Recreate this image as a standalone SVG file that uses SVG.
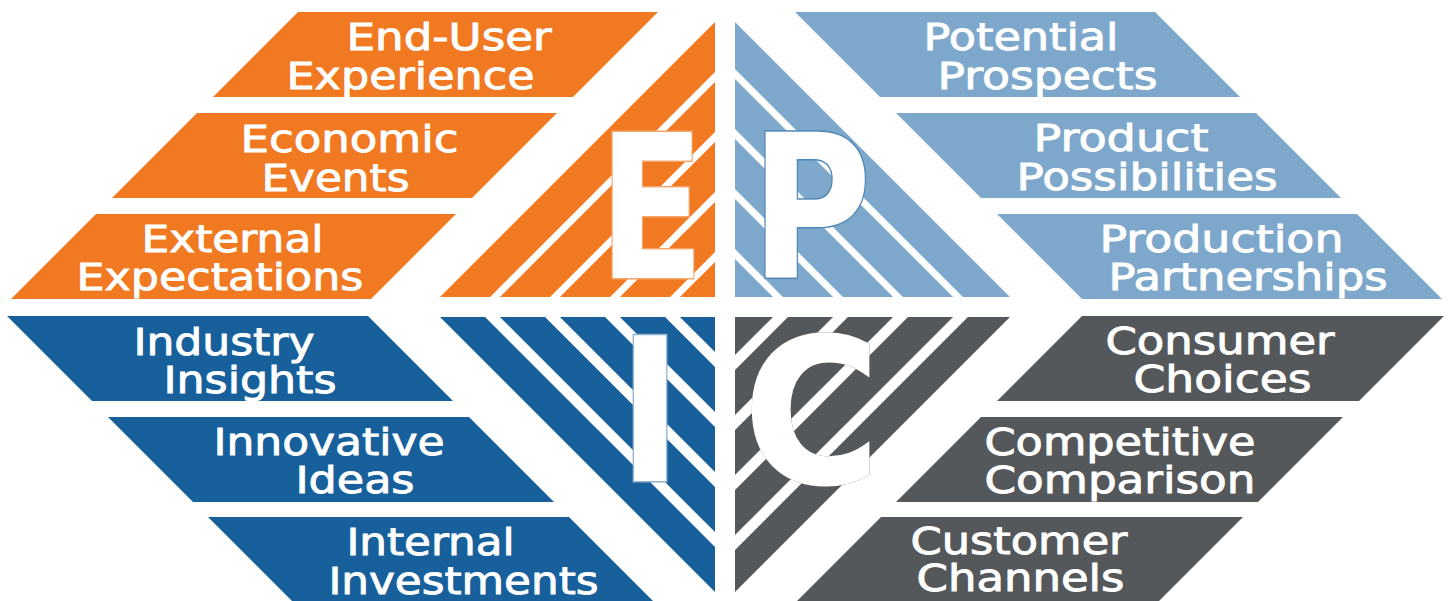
<svg xmlns="http://www.w3.org/2000/svg" width="1452" height="601" viewBox="0 0 1452 601">
<defs>
<style>
.or{fill:#F07922}.bl{fill:#17609C}.lb{fill:#7EA8CB}.gr{fill:#54585B}
.t{font-family:"DejaVu Sans","Liberation Sans",sans-serif;font-size:38px;fill:#fff;stroke:#fff;stroke-width:0.9;text-anchor:middle}
.s1{stroke:#fff;stroke-width:7;fill:none}
.s2{stroke:#fff;stroke-width:10.5;fill:none}
.big{font-family:"DejaVu Sans","Liberation Sans",sans-serif;font-weight:bold;font-size:199px;fill:#fff;stroke-width:3;text-anchor:middle;paint-order:stroke}
</style>
<clipPath id="cE"><polygon points="715,22 715,297 440,297"/></clipPath>
<clipPath id="cP"><polygon points="735,22 735,297 1010,297"/></clipPath>
<clipPath id="cI"><polygon points="440,317 715,317 715,592"/></clipPath>
<clipPath id="cC"><polygon points="735,317 1010,317 735,592"/></clipPath>
</defs>
<rect width="1452" height="601" fill="#fff"/>

<g id="quad-E">
<polygon class="or" points="715,22 715,297 440,297"/>
<g clip-path="url(#cE)">
<line class="s1" x1="792" y1="0" x2="92" y2="700"/>
<line class="s1" x1="852" y1="0" x2="152" y2="700"/>
<line class="s1" x1="912" y1="0" x2="212" y2="700"/>
<line class="s1" x1="972" y1="0" x2="272" y2="700"/>
</g>
<text class="big" stroke="#F6A56C" transform="translate(651.5,278) scale(0.78,1)">E</text>
</g>

<g id="quad-P">
<polygon class="lb" points="735,22 735,297 1010,297"/>
<g clip-path="url(#cP)">
<line class="s1" x1="661" y1="0" x2="1361" y2="700"/>
<line class="s1" x1="601" y1="0" x2="1301" y2="700"/>
<line class="s1" x1="541" y1="0" x2="1241" y2="700"/>
<line class="s1" x1="481" y1="0" x2="1181" y2="700"/>
</g>
<text class="big" stroke="#4F86B6" transform="translate(811,278) scale(0.83,1)">P</text>
</g>

<g id="quad-I">
<polygon class="bl" points="440,317 715,317 715,592"/>
<g clip-path="url(#cI)">
<line class="s2" x1="175.5" y1="0" x2="875.5" y2="700"/>
<line class="s2" x1="235.5" y1="0" x2="935.5" y2="700"/>
<line class="s2" x1="295.5" y1="0" x2="995.5" y2="700"/>
<line class="s2" x1="355.5" y1="0" x2="1055.5" y2="700"/>
</g>
<text class="big" stroke="#8FB0CF" transform="translate(650,481) scale(0.86,1)">I</text>
</g>

<g id="quad-C">
<polygon class="gr" points="735,317 1010,317 735,592"/>
<g clip-path="url(#cC)">
<line class="s2" x1="1277.5" y1="0" x2="577.5" y2="700"/>
<line class="s2" x1="1217.5" y1="0" x2="517.5" y2="700"/>
<line class="s2" x1="1157.5" y1="0" x2="457.5" y2="700"/>
<line class="s2" x1="1097.5" y1="0" x2="397.5" y2="700"/>
</g>
<text class="big" stroke="#3A3D3F" stroke-width="7" transform="translate(812,482) scale(0.93,1)">C</text>
<text class="big" stroke="#fff" stroke-width="4.5" transform="translate(812,482) scale(0.93,1)">C</text>
</g>

<g id="n-end-user">
<polygon class="or" points="298,12 658,12 573,97 213,97"/>
<text class="t" x="449" y="50" textLength="205" lengthAdjust="spacingAndGlyphs">End-User</text>
<text class="t" x="410.5" y="89" textLength="248" lengthAdjust="spacingAndGlyphs">Experience</text>
</g>
<g id="n-economic">
<polygon class="or" points="197,113 557,113 472,198 112,198"/>
<text class="t" x="349.5" y="152" textLength="218" lengthAdjust="spacingAndGlyphs">Economic</text>
<text class="t" x="335.5" y="191" textLength="148" lengthAdjust="spacingAndGlyphs">Events</text>
</g>
<g id="n-external">
<polygon class="or" points="96,214 456,214 371,299 11,299"/>
<text class="t" x="232.5" y="252" textLength="182" lengthAdjust="spacingAndGlyphs">External</text>
<text class="t" x="220" y="290" textLength="287" lengthAdjust="spacingAndGlyphs">Expectations</text>
</g>

<g id="n-industry">
<polygon class="bl" points="7,316 368,316 453,401 92,401"/>
<text class="t" x="224" y="355" textLength="181" lengthAdjust="spacingAndGlyphs">Industry</text>
<text class="t" x="250" y="393" textLength="173" lengthAdjust="spacingAndGlyphs">Insights</text>
</g>
<g id="n-innovative">
<polygon class="bl" points="108,417 469,417 554,502 193,502"/>
<text class="t" x="329" y="455" textLength="231" lengthAdjust="spacingAndGlyphs">Innovative</text>
<text class="t" x="355" y="493" textLength="119" lengthAdjust="spacingAndGlyphs">Ideas</text>
</g>
<g id="n-internal">
<polygon class="bl" points="208,517 569,517 654,602 293,602"/>
<text class="t" x="430.5" y="555" textLength="168" lengthAdjust="spacingAndGlyphs">Internal</text>
<text class="t" x="463.5" y="594" textLength="270" lengthAdjust="spacingAndGlyphs">Investments</text>
</g>

<g id="n-potential">
<polygon class="lb" points="795,12 1155,12 1240,97 880,97"/>
<text class="t" x="1021" y="50" textLength="195" lengthAdjust="spacingAndGlyphs">Potential</text>
<text class="t" x="1047.5" y="89" textLength="220" lengthAdjust="spacingAndGlyphs">Prospects</text>
</g>
<g id="n-product">
<polygon class="lb" points="896,113 1256,113 1341,198 981,198"/>
<text class="t" x="1121" y="151" textLength="175" lengthAdjust="spacingAndGlyphs">Product</text>
<text class="t" x="1147" y="190" textLength="261" lengthAdjust="spacingAndGlyphs">Possibilities</text>
</g>
<g id="n-production">
<polygon class="lb" points="997,214 1357,214 1442,299 1082,299"/>
<text class="t" x="1221.5" y="252" textLength="244" lengthAdjust="spacingAndGlyphs">Production</text>
<text class="t" x="1248" y="290" textLength="279" lengthAdjust="spacingAndGlyphs">Partnerships</text>
</g>

<g id="n-consumer">
<polygon class="gr" points="1082,316 1444,316 1359,401 997,401"/>
<text class="t" x="1220" y="354" textLength="229" lengthAdjust="spacingAndGlyphs">Consumer</text>
<text class="t" x="1222.5" y="392" textLength="178" lengthAdjust="spacingAndGlyphs">Choices</text>
</g>
<g id="n-competitive">
<polygon class="gr" points="981,417 1343,417 1258,502 896,502"/>
<text class="t" x="1120" y="455" textLength="271" lengthAdjust="spacingAndGlyphs">Competitive</text>
<text class="t" x="1120" y="493" textLength="271" lengthAdjust="spacingAndGlyphs">Comparison</text>
</g>
<g id="n-customer">
<polygon class="gr" points="881,517 1243,517 1158,602 796,602"/>
<text class="t" x="1019" y="554" textLength="217" lengthAdjust="spacingAndGlyphs">Customer</text>
<text class="t" x="1020.5" y="591" textLength="208" lengthAdjust="spacingAndGlyphs">Channels</text>
</g>
<g id="connectors"/>
</svg>
